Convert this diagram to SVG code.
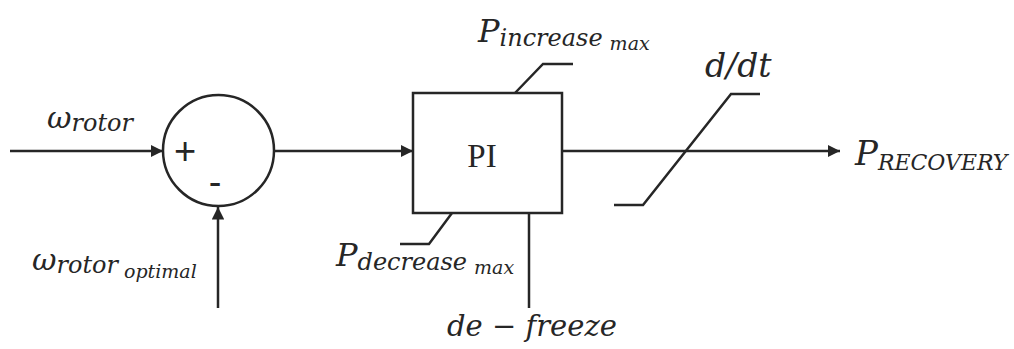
<svg xmlns="http://www.w3.org/2000/svg" width="1014" height="349" viewBox="0 0 1014 349">
<style>
.ln{stroke:#262626;stroke-width:2.5;fill:none}
.m{font-family:"DejaVu Serif","Liberation Serif",serif;font-style:italic;fill:#262626}
.up{font-family:"Liberation Serif",serif;fill:#262626}
.sg{font-family:"Liberation Sans",sans-serif;fill:#262626}
</style>
<defs>
<marker id="ar" viewBox="0 0 10 10" refX="10" refY="5" markerWidth="5" markerHeight="5" markerUnits="strokeWidth" orient="auto">
<path d="M0,0L10,5L0,10z" fill="#262626"/>
</marker>
</defs>
<rect width="1014" height="349" fill="#fff"/>
<g id="connectors">
<line class="ln" x1="10" y1="151" x2="163" y2="151" marker-end="url(#ar)"/>
<line class="ln" x1="218" y1="308" x2="218" y2="207" marker-end="url(#ar)"/>
<line class="ln" x1="274" y1="151" x2="413" y2="151" marker-end="url(#ar)"/>
<line class="ln" x1="562" y1="151" x2="840" y2="151" marker-end="url(#ar)"/>
<polyline class="ln" points="515,93 543,64 573,64"/>
<polyline class="ln" points="452,213 429,244 400,244"/>
<line class="ln" x1="529" y1="213" x2="529" y2="308"/>
</g>
<g id="sum">
<circle class="ln" cx="218.5" cy="150.5" r="55.5"/>
<text class="sg" x="185" y="164" font-size="38" text-anchor="middle">+</text>
<text class="sg" x="215" y="195" font-size="38" text-anchor="middle">-</text>
</g>
<g id="pi">
<rect class="ln" x="413" y="93" width="149" height="120"/>
<text class="up" x="482" y="167" font-size="33" text-anchor="middle">PI</text>
</g>
<g id="limiter">
<polyline class="ln" points="614,205 643,205 731,94 760,94"/>
</g>
<g id="labels">
<text class="m" x="47" y="128" font-size="30">ω<tspan font-size="24" dy="3">rotor</tspan></text>
<text class="m" x="32" y="270" font-size="30">ω<tspan font-size="24" dy="3">rotor</tspan><tspan font-size="19" dy="5" dx="6">optimal</tspan></text>
<text class="m" x="478" y="42" font-size="32">P<tspan font-size="24" dy="4">increase</tspan><tspan font-size="19" dy="4" dx="7">max</tspan></text>
<text class="m" x="336" y="266" font-size="32">P<tspan font-size="24" dy="4">decrease</tspan><tspan font-size="19" dy="4" dx="7">max</tspan></text>
<text class="m" x="447" y="336" font-size="29">de − freeze</text>
<text class="m" x="705" y="77" font-size="33">d/dt</text>
<text class="m" x="855" y="165" font-size="34">P<tspan font-size="22" dy="5">RECOVERY</tspan></text>
</g>
</svg>
